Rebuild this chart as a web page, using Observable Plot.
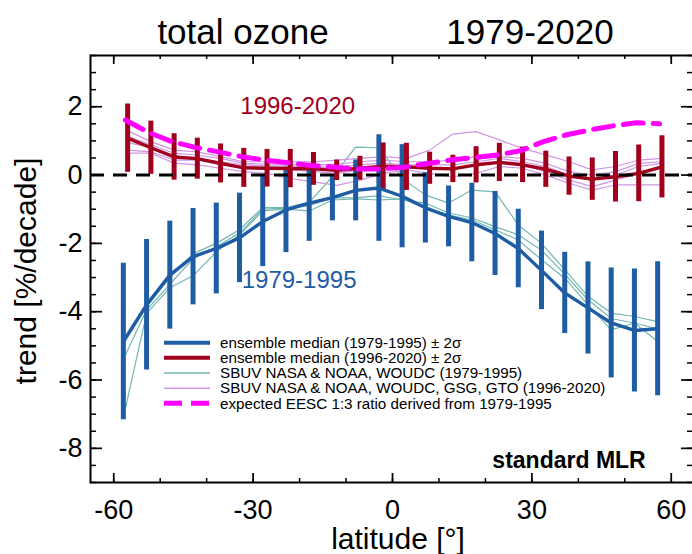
<!DOCTYPE html>
<html><head><meta charset="utf-8">
<script src="https://cdn.jsdelivr.net/npm/d3@7"></script>
<script src="https://cdn.jsdelivr.net/npm/@observablehq/plot@0.6"></script>
<style>html,body{margin:0;padding:0;background:#fff;} svg{display:block}</style>
</head><body><div id="chart"></div>
<script>
// ---------- data ----------
const lat = [-57.5,-52.5,-47.5,-42.5,-37.5,-32.5,-27.5,-22.5,-17.5,-12.5,-7.5,-2.5,2.5,7.5,12.5,17.5,22.5,27.5,32.5,37.5,42.5,47.5,52.5,57.5];
// ensemble median 1979-1995 and 2 sigma
const medEarly = [-4.87,-3.80,-2.93,-2.39,-2.15,-1.84,-1.36,-1.02,-0.82,-0.66,-0.45,-0.38,-0.62,-0.96,-1.21,-1.39,-1.71,-2.15,-2.79,-3.45,-3.89,-4.33,-4.55,-4.50];
const sigEarly = [2.29,1.91,1.58,1.41,1.33,1.31,1.32,1.25,1.12,0.68,0.89,1.56,1.51,1.03,0.89,1.15,1.23,1.15,1.15,1.19,1.35,1.61,1.80,1.96];
// ensemble median 1996-2020 and 2 sigma
const medLate = [1.08,0.80,0.53,0.48,0.34,0.21,0.20,0.19,0.18,0.14,0.20,0.26,0.24,0.20,0.18,0.30,0.37,0.30,0.17,-0.03,-0.12,-0.05,0.05,0.24];
const sigLate = [1.00,0.78,0.68,0.60,0.57,0.57,0.55,0.56,0.48,0.30,0.35,0.68,0.69,0.47,0.40,0.53,0.56,0.52,0.53,0.56,0.62,0.74,0.83,0.91];
// expected EESC 1:3 ratio
const eesc = [1.61,1.25,0.98,0.81,0.68,0.54,0.44,0.36,0.28,0.23,0.18,0.18,0.23,0.34,0.44,0.51,0.59,0.71,0.98,1.18,1.32,1.44,1.53,1.50];
// individual datasets 1979-1995
const teal1 = [-4.95,-3.85,-3.00,-2.30,-2.00,-1.60,-0.95,-0.95,-0.80,-0.05,0.82,0.80,-0.10,-0.58,-0.82,-0.44,-0.49,-1.46,-2.00,-2.77,-3.55,-4.04,-4.14,-4.29];
const teal2 = [-5.40,-3.95,-3.20,-2.45,-2.10,-1.70,-1.00,-0.97,-0.90,-0.67,-0.67,-0.60,-0.73,-0.82,-1.11,-1.25,-1.51,-1.75,-2.20,-2.90,-3.65,-4.20,-4.33,-4.50];
const teal3 = [-7.10,-4.05,-3.30,-2.95,-2.25,-1.75,-1.05,-1.00,-1.05,-0.73,-0.70,-0.73,-0.70,-0.96,-1.17,-1.31,-1.60,-1.90,-2.48,-3.02,-3.80,-4.53,-4.33,-4.87];
// individual datasets 1996-2020
const violet1 = [1.30,0.98,0.73,0.68,0.54,0.39,0.39,0.39,0.39,0.44,0.49,0.54,0.49,0.73,1.20,1.27,1.03,0.78,0.59,0.39,0.15,0.25,0.44,0.49];
const violet2 = [1.14,0.88,0.64,0.58,0.49,0.34,0.32,0.32,0.30,0.32,0.39,0.44,0.39,0.39,0.44,0.54,0.54,0.49,0.34,0.10,0.00,0.10,0.34,0.39];
const violet3 = [0.95,0.81,0.56,0.48,0.39,0.30,0.27,0.27,0.23,0.24,0.30,0.35,0.30,0.30,0.30,0.39,0.49,0.39,0.25,0.00,-0.15,0.00,0.25,0.34];
const violet4 = [0.73,0.68,0.44,0.44,0.30,0.25,0.20,0.15,0.10,0.05,0.15,0.25,0.25,0.23,0.20,0.30,0.39,0.30,0.10,-0.15,-0.34,-0.15,0.05,0.25];
const violet5 = [0.64,0.64,0.35,0.30,0.20,0.10,0.05,-0.10,-0.20,-0.30,-0.15,0.05,0.15,0.05,-0.05,0.05,0.25,0.20,0.00,-0.24,-0.44,-0.29,-0.29,-0.29];
// ticks
const xMajor = [-60,-30,0,30,60];
const xMinor = [-60,-50,-40,-30,-20,-10,0,10,20,30,40,50,60];
const yMajor = [-8,-6,-4,-2,0,2];
const yMinor = [-9,-8.5,-8,-7.5,-7,-6.5,-6,-5.5,-5,-4.5,-4,-3.5,-3,-2.5,-2,-1.5,-1,-0.5,0,0.5,1,1.5,2,2.5,3,3.5];
const legendItems = [
  "ensemble median (1979-1995) \u00b1 2\u03c3",
  "ensemble median (1996-2020) \u00b1 2\u03c3",
  "SBUV NASA & NOAA, WOUDC (1979-1995)",
  "SBUV NASA & NOAA, WOUDC, GSG, GTO (1996-2020)",
  "expected EESC 1:3 ratio derived from 1979-1995"
];

// ---------- tables ----------
const early = lat.map((l,i)=>({lat:l, med:medEarly[i], lo:medEarly[i]-sigEarly[i], hi:medEarly[i]+sigEarly[i]}));
const late = lat.map((l,i)=>({lat:l, med:medLate[i], lo:medLate[i]-sigLate[i], hi:medLate[i]+sigLate[i]}));
const eescRows = lat.map((l,i)=>({lat:l, v:eesc[i]}));
const tealRows = [teal1,teal2,teal3].flatMap((s,k)=>lat.map((l,i)=>({lat:l, v:s[i], s:k})));
const violetRows = [violet1,violet2,violet3,violet4,violet5].flatMap((s,k)=>lat.map((l,i)=>({lat:l, v:s[i], s:k})));

const BLUE = "#1f5ca6", RED = "#a0001c", TEAL = "#74b8b2", VIOLET = "#d095e4", MAG = "#ff00ff";
const FONT = "'Liberation Sans', Arial, Helvetica, sans-serif";
const W = 692, H = 554, L = 90, T = 55, B = 482;
const FW = W - L, FH = B - T;

const svg = Plot.plot({
  width: W, height: H,
  marginLeft: L, marginRight: 0, marginTop: T, marginBottom: H - B,
  style: {fontFamily: FONT, background: "white", color: "black", overflow: "visible"},
  x: {domain: [-65, 65], range: [L, 694]},
  y: {domain: [-9, 3.5], range: [B, T]},
  marks: [
    Plot.line(tealRows, {x:"lat", y:"v", z:"s", stroke: TEAL, strokeWidth: 1.2, dx: -2}),
    Plot.line(violetRows, {x:"lat", y:"v", z:"s", stroke: VIOLET, strokeWidth: 1.2, dx: 2.3}),
    Plot.ruleX(early, {x:"lat", y1:"lo", y2:"hi", stroke: BLUE, strokeWidth: 5, dx: -2}),
    Plot.ruleX(late, {x:"lat", y1:"lo", y2:"hi", stroke: RED, strokeWidth: 5, dx: 2.3}),
    Plot.line(early, {x:"lat", y:"med", stroke: BLUE, strokeWidth: 3.4, dx: -2}),
    Plot.line(late, {x:"lat", y:"med", stroke: RED, strokeWidth: 3.4, dx: 2.3}),
    Plot.ruleY([0], {stroke: "black", strokeWidth: 3, strokeDasharray: "14,9"}),
    Plot.line(eescRows, {x:"lat", y:"v", stroke: MAG, strokeWidth: 5, strokeDasharray: "20,10"}),
    Plot.text(["1996-2020"], {x: () => -20.4, y: () => 1.80, fill: RED, fontSize: 24, lineAnchor: "bottom", textAnchor: "middle"}),
    Plot.text(["1979-1995"], {x: () => -20.1, y: () => -3.32, fill: BLUE, fontSize: 24, lineAnchor: "bottom", textAnchor: "middle"}),
    Plot.text(["standard MLR"], {x: () => 54.5, y: () => -8.59, fill: "black", fontSize: 23, fontWeight: "bold", lineAnchor: "bottom", textAnchor: "end"}),
    // inward ticks
    Plot.tickY(yMajor, {y: d=>d, insetRight: FW-12, stroke: "black", strokeWidth: 1.7}),
    Plot.tickY(yMinor, {y: d=>d, insetRight: FW-6, stroke: "black", strokeWidth: 1.5}),
    Plot.tickY(yMajor, {y: d=>d, insetLeft: FW-11, stroke: "black", strokeWidth: 1.7}),
    Plot.tickY(yMinor, {y: d=>d, insetLeft: FW-5, stroke: "black", strokeWidth: 1.5}),
    Plot.tickX(xMajor, {x: d=>d, insetBottom: FH-9, stroke: "black", strokeWidth: 1.7}),
    Plot.tickX(xMinor, {x: d=>d, insetBottom: FH-4, stroke: "black", strokeWidth: 1.5}),
    Plot.tickX(xMajor, {x: d=>d, insetTop: FH-9, stroke: "black", strokeWidth: 1.7}),
    Plot.tickX(xMinor, {x: d=>d, insetTop: FH-4, stroke: "black", strokeWidth: 1.5}),
    Plot.frame({stroke: "black", strokeWidth: 2, insetRight: -3}),
    Plot.axisY({ticks: yMajor, tickSize: 0, tickPadding: 8, fontSize: 27, label: null, tickFormat: d => String(d)}),
    Plot.axisX({ticks: xMajor, tickSize: 0, tickPadding: 17, fontSize: 27, label: null, tickFormat: d => String(d)})
  ]
});

const s = d3.select(svg);
// titles
s.append("text").attr("x", 243).attr("y", 44).attr("text-anchor","middle").attr("font-size",35).attr("font-family",FONT).attr("fill","black").text("total ozone");
s.append("text").attr("x", 530).attr("y", 44).attr("text-anchor","middle").attr("font-size",35).attr("font-family",FONT).attr("fill","black").text("1979-2020");
// axis labels
s.append("text").attr("x", 398).attr("y", 549).attr("text-anchor","middle").attr("font-size",30).attr("font-family",FONT).attr("fill","black").text("latitude [\u00b0]");
s.append("text").attr("transform","translate(36,271) rotate(-90)").attr("text-anchor","middle").attr("font-size",30).attr("font-family",FONT).attr("fill","black").text("trend [%/decade]");
// legend
const styles = [
  {stroke: BLUE, w: 4, dash: null},
  {stroke: RED, w: 4, dash: null},
  {stroke: TEAL, w: 1.5, dash: null},
  {stroke: VIOLET, w: 1.5, dash: null},
  {stroke: MAG, w: 5, dash: "18,9"}
];
const lg = s.append("g").attr("text-anchor", "start");
legendItems.forEach((t,i)=>{
  const y = 342.7 + i*15.15;
  const st = styles[i];
  lg.append("line").attr("x1",164).attr("x2",210).attr("y1",y).attr("y2",y)
    .attr("stroke",st.stroke).attr("stroke-width",st.w).attr("stroke-dasharray",st.dash);
  lg.append("text").attr("x",220).attr("y",y).attr("dy","0.35em").attr("font-size",15.2)
    .attr("text-anchor","start").attr("font-family",FONT).attr("fill","black").text(t);
});
document.getElementById("chart").appendChild(svg);
</script>
</body></html>
